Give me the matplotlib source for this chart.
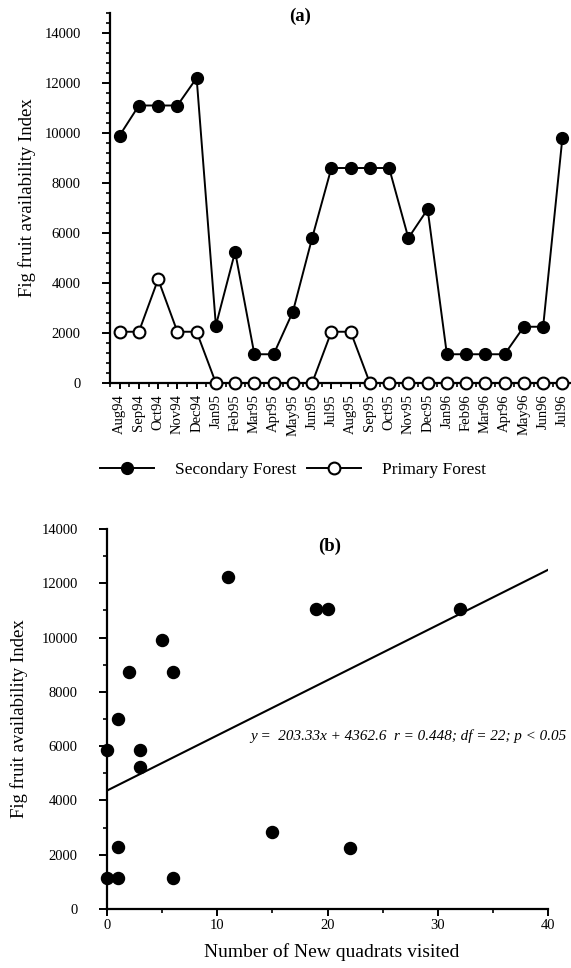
"""Fig fruit availability: monthly index (a) and relation to new quadrats visited (b)."""
import matplotlib
matplotlib.use("Agg")
import matplotlib.pyplot as plt
from matplotlib.lines import Line2D
from matplotlib.ticker import MultipleLocator, FixedLocator

plt.rcParams["font.family"] = ["Liberation Serif", "DejaVu Serif"]

months = ["Aug94", "Sep94", "Oct94", "Nov94", "Dec94", "Jan95", "Feb95", "Mar95",
          "Apr95", "May95", "Jun95", "Jul95", "Aug95", "Sep95", "Oct95", "Nov95",
          "Dec95", "Jan96", "Feb96", "Mar96", "Apr96", "May96", "Jun96", "Jul96"]
secondary = [9900, 11100, 11100, 11100, 12200, 2300, 5250, 1150, 1150, 2850, 5800, 8600,
             8600, 8600, 8600, 5800, 6950, 1150, 1150, 1150, 1150, 2250, 2250, 9800]
primary = [2050, 2050, 4150, 2050, 2050, 0, 0, 0, 0, 0, 0, 2050,
           2050, 0, 0, 0, 0, 0, 0, 0, 0, 0, 0, 0]

new_quadrats = [0, 0, 1, 1, 1, 2, 3, 3, 5, 6, 6, 11, 15, 19, 20, 22, 32]
fig_index = [5850, 1150, 1150, 2300, 7000, 8750, 5850, 5250, 9900, 8750, 1150,
             12250, 2850, 11050, 11050, 2250, 11050]
slope, intercept = 203.33, 4362.6
equation = "y =  203.33x + 4362.6  r = 0.448; df = 22; p < 0.05"

W, H = 571, 968
fig = plt.figure(figsize=(W / 100, H / 100), dpi=100)


def px_axes(left, top, right, bottom):
    return fig.add_axes([left / W, 1 - bottom / H, (right - left) / W, (bottom - top) / H])


def style_axes(ax):
    for side in ("top", "right"):
        ax.spines[side].set_visible(False)
    for side in ("left", "bottom"):
        ax.spines[side].set_linewidth(1.6)
    ax.tick_params(which="major", direction="out", length=5, width=1.4, labelsize=10.5)
    ax.tick_params(which="minor", direction="out", length=3, width=1.2)


# (a) monthly index
ax1 = px_axes(110, 13, 572, 383)
x = list(range(len(months)))
ax1.plot(x, secondary, "-o", color="black", lw=1.4, ms=8.5, mfc="black", mec="black",
         clip_on=False, zorder=3)
ax1.plot(x, primary, "-o", color="black", lw=1.4, ms=8.5, mfc="white", mec="black",
         mew=1.5, clip_on=False, zorder=3)
ax1.set_xlim(-0.5, 23.5)
ax1.set_ylim(0, 14800)
ax1.set_xticks(x)
ax1.set_xticklabels(months, rotation=90, fontsize=11)
ax1.xaxis.set_minor_locator(FixedLocator([i + 0.5 for i in range(-1, 24)]))
ax1.yaxis.set_major_locator(MultipleLocator(2000))
ax1.yaxis.set_minor_locator(MultipleLocator(400))
style_axes(ax1)
ax1.tick_params(axis="y", which="major", pad=15, length=6)
ax1.tick_params(axis="x", which="major", pad=4, length=4)
ax1.set_ylabel("Fig fruit availability Index", fontsize=13.5)
ax1.yaxis.set_label_coords(-0.16, 0.5)

fig.text(300 / W, 1 - 16 / H, "(a)", ha="center", va="center", fontsize=13.5, fontweight="bold")

handles = [
    Line2D([], [], color="black", lw=1.4, marker="o", ms=8.5, mfc="black", mec="black"),
    Line2D([], [], color="black", lw=1.4, marker="o", ms=8.5, mfc="white", mec="black", mew=1.5),
]
fig.legend(handles, ["Secondary Forest", "Primary Forest"], loc="center",
           bbox_to_anchor=(293 / W, 1 - 470 / H), ncol=2, frameon=False, fontsize=12.5,
           handlelength=3.1, handletextpad=1.2, columnspacing=0.6, numpoints=1)

# (b) index vs new quadrats
ax2 = px_axes(107, 529, 548, 909)
ax2.scatter(new_quadrats, fig_index, s=75, color="black", zorder=3, clip_on=False)
xs = [0, 40]
ax2.plot(xs, [slope * v + intercept for v in xs], color="black", lw=1.5)
ax2.set_xlim(0, 40)
ax2.set_ylim(0, 14000)
ax2.xaxis.set_major_locator(MultipleLocator(10))
ax2.xaxis.set_minor_locator(MultipleLocator(5))
ax2.yaxis.set_major_locator(MultipleLocator(2000))
ax2.yaxis.set_minor_locator(MultipleLocator(1000))
style_axes(ax2)
ax2.tick_params(axis="y", which="major", pad=15, length=6)
ax2.tick_params(axis="x", which="major", pad=2, length=5)
ax2.set_xlabel("Number of New quadrats visited", fontsize=14)
ax2.set_ylabel("Fig fruit availability Index", fontsize=13.5)
ax2.yaxis.set_label_coords(-0.18, 0.5)
ax2.xaxis.set_label_coords(0.51, -0.09)
ax2.text(13.0, 6370, equation, ha="left", va="center", fontsize=10.9, style="italic")

fig.text(330 / W, 1 - 546 / H, "(b)", ha="center", va="center", fontsize=13.5, fontweight="bold")

fig.savefig("out.png", dpi=100)
